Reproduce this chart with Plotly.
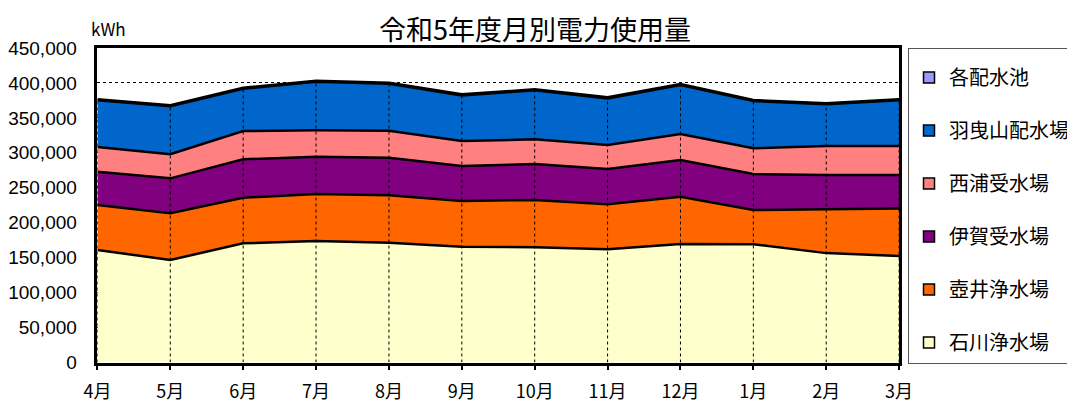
import plotly.graph_objects as go

# 月別の電力使用量 (kWh)
meses = ['4月', '5月', '6月', '7月', '8月', '9月', '10月', '11月', '12月', '1月', '2月', '3月']

ishikawa = [161000, 146700, 170500, 173800, 171400, 165700, 164800, 162000, 169500, 169100, 156500, 152400]
tsuboi = [64400, 66800, 65300, 67300, 67800, 65400, 67700, 64400, 67700, 49100, 62700, 67900]
iga = [47600, 50000, 54900, 53400, 53800, 50100, 51500, 50500, 52500, 51500, 49100, 48000]
nishiura = [35300, 34400, 40500, 37700, 38700, 35700, 35300, 34300, 37200, 36800, 41500, 41500]
habikiyama = [66800, 68600, 60500, 69500, 67100, 65300, 70100, 66700, 70000, 67600, 59600, 65300]
haisuichi = [1500, 1500, 1500, 1500, 1500, 1500, 1500, 1500, 1500, 1500, 1500, 1500]

series = [
    ('石川浄水場', ishikawa, '#FFFFCC'),
    ('壺井浄水場', tsuboi, '#FF6600'),
    ('伊賀受水場', iga, '#800080'),
    ('西浦受水場', nishiura, '#FF8080'),
    ('羽曳山配水場', habikiyama, '#0066CC'),
    ('各配水池', haisuichi, '#9999FF'),
]

fuente = 'Noto Sans CJK JP'
# la pagina deja 8px de margen, asi que la figura es 8px mas chica
W, H = 1067, 395
OFF = 8


def px_x(v):
    return (v - OFF) / W


def px_y(v):
    return 1 - (v - OFF) / H


fig = go.Figure()

for nombre, valores, color in series:
    fig.add_trace(go.Scatter(
        x=meses, y=valores, name=nombre, stackgroup='uno',
        mode='lines', line=dict(color='black', width=2.5),
        fillcolor=color, showlegend=False, hoverinfo='skip'))

# lineas de caida punteadas (del total al eje)
totales = [sum(v) for v in zip(*[s[1] for s in series])]
xs, ys = [], []
for m, t in zip(meses, totales):
    xs += [m, m, None]
    ys += [0, t, None]
fig.add_trace(go.Scatter(x=xs, y=ys, mode='lines',
                         line=dict(color='black', width=1, dash='dot'),
                         showlegend=False, hoverinfo='skip'))

# leyenda con cuadrados, de arriba (各配水池) hacia abajo
for i, (nombre, valores, color) in enumerate(reversed(series)):
    fig.add_trace(go.Scatter(
        x=[None], y=[None], name=nombre, mode='markers',
        marker=dict(symbol='square', size=11, color=color,
                    line=dict(color='black', width=1.5)),
        legendgroup=str(i)))

fig.update_layout(
    width=W, height=H,
    margin=dict(l=0, r=0, t=0, b=0),
    paper_bgcolor='white', plot_bgcolor='white',
    font=dict(family=fuente, color='black'),
    showlegend=True,
    legend=dict(x=px_x(914), xanchor='left', y=px_y(48), yanchor='top',
                traceorder='grouped', bordercolor='#555', borderwidth=1,
                font=dict(size=20, family=fuente), tracegroupgap=24,
                itemwidth=30, title=dict(text=' ', font=dict(size=7))),
    annotations=[
        dict(text='令和5年度月別電力使用量', x=px_x(538), y=px_y(28), xref='paper', yref='paper',
             xanchor='center', yanchor='middle', showarrow=False,
             font=dict(size=27, family=fuente)),
        dict(text='kWh', x=px_x(109), y=px_y(28), xref='paper', yref='paper',
             xanchor='center', yanchor='middle', showarrow=False,
             font=dict(size=17, family=fuente)),
    ],
)

fig.update_xaxes(type='category', range=[0, 11], domain=[px_x(98), px_x(905)],
                 automargin=False, showline=True, linecolor='black',
                 linewidth=2.5, mirror=True, ticks='outside', ticklen=5, tickwidth=2,
                 tickcolor='black', showgrid=False, ticklabelstandoff=6,
                 tickfont=dict(size=18, family=fuente))
fig.update_yaxes(range=[0, 450000], dtick=50000, tickformat=',',
                 domain=[px_y(362.5), px_y(48)], automargin=False, showline=True,
                 linecolor='black', linewidth=2.5, mirror=True, showgrid=True,
                 gridcolor='black', gridwidth=1, griddash='dot', ticks='',
                 ticklabelstandoff=14, zeroline=False,
                 tickfont=dict(size=19, family='Liberation Sans'))

fig.write_html('out.html')
